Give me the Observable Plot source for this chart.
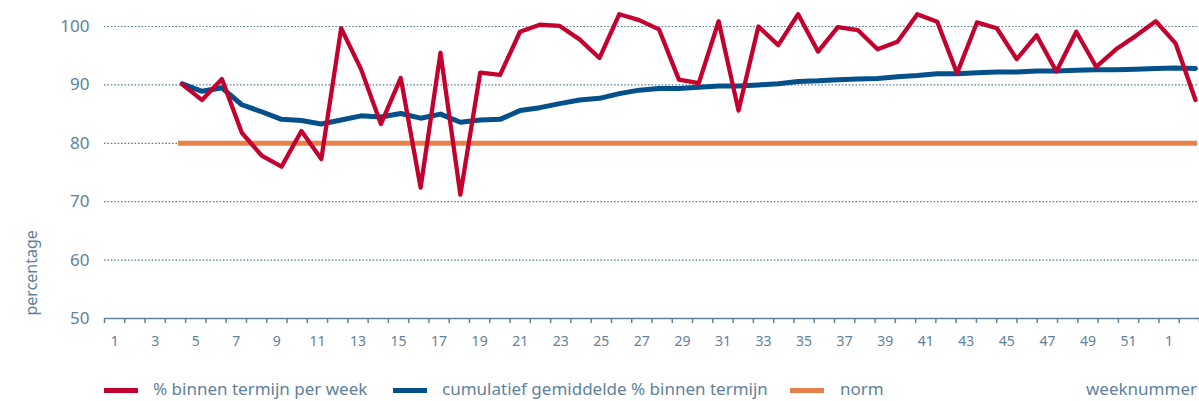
<!DOCTYPE html>
<html><head><meta charset="utf-8">
<script src="https://cdn.jsdelivr.net/npm/d3@7"></script>
<script src="https://cdn.jsdelivr.net/npm/@observablehq/plot@0.6"></script>
<style>
body{margin:0;background:#fff;font-family:"Noto Sans",sans-serif;}
#wrap{position:relative;width:1199px;height:401px;overflow:hidden;}
#wrap svg{position:absolute;left:0;top:0;}
.sw{position:absolute;height:5px;top:388px;}
.lt{position:absolute;top:379px;font-size:17px;line-height:20px;color:#5f819c;white-space:nowrap;}
</style></head><body><div id="wrap"></div>
<script>
// axis slots (weeknummer) and tick labels
const weekSlots = [1,2,3,4,5,6,7,8,9,10,11,12,13,14,15,16,17,18,19,20,21,22,23,24,25,26,27,28,29,30,31,32,33,34,35,36,37,38,39,40,41,42,43,44,45,46,47,48,49,50,51,52,1,2];
const tickLabels = ["1","3","5","7","9","11","13","15","17","19","21","23","25","27","29","31","33","35","37","39","41","43","45","47","49","51","1"];
const yTicks = [50,60,70,80,90,100];
const gridTicks = [60,70,80,90,100];

// series
const perWeek = [90.1,87.4,91.0,81.8,77.9,76.0,82.1,77.3,99.7,92.7,83.3,91.2,
  72.4,95.5,71.2,92.1,91.7,99.1,100.3,100.1,97.8,94.6,102.1,101.1,99.5,90.9,90.3,100.9,85.6,100.0,96.8,102.1,
  95.7,99.9,99.4,96.1,97.4,102.1,100.8,92.0,100.7,99.7,94.4,98.5,92.3,99.1,93.1,96.1,98.4,100.9,97.1,87.4];
const cumulative = [90.2,88.9,89.5,86.6,85.4,84.1,83.9,83.3,84.0,84.7,84.5,85.1,
  84.3,85.0,83.6,84.0,84.1,85.6,86.1,86.8,87.4,87.7,88.5,89.1,89.4,89.4,89.6,89.8,89.8,90.0,90.2,90.6,
  90.7,90.9,91.0,91.1,91.4,91.6,91.9,91.9,92.1,92.2,92.2,92.4,92.4,92.5,92.6,92.6,92.7,92.8,92.9,92.8];
const normValue = 80;

const axisColor = "#5f819c";
const redData = perWeek.map((v, i) => ({i, v}));
const blueData = cumulative.map((v, i) => ({i, v}));
const tickPos = tickLabels.map((_, k) => 2 * k + 0.5);
const boundaries = d3.range(0, weekSlots.length + 1);

const wrap = document.getElementById("wrap");

const base = Plot.plot({
  width: 1199, height: 360,
  marginLeft: 104, marginRight: 0, marginTop: 26, marginBottom: 42,
  x: {domain: [0, weekSlots.length]},
  y: {domain: [50, 100]},
  style: {fontFamily: "Noto Sans", color: axisColor, background: "transparent", fontVariantNumeric: "oldstyle-nums"},
  marks: [
    Plot.gridY(gridTicks, {stroke: "#5b7c95", strokeOpacity: 1, strokeDasharray: "1.6,1.8", strokeWidth: 1.2}),
    Plot.axisY(yTicks, {tickSize: 0, tickPadding: 15, fontSize: 17, label: null}),
    Plot.ruleY([50], {stroke: axisColor, strokeWidth: 1.5}),
    Plot.axisX(boundaries, {tickSize: 5, tickFormat: () => "", label: null, stroke: axisColor, strokeWidth: 1.5}),
    Plot.axisX(tickPos, {tickSize: 0, tickPadding: 18, fontSize: 14, label: null, tickFormat: (d, i) => tickLabels[i]}),
    Plot.text(["percentage"], {frameAnchor: "bottom-left", rotate: -90, textAnchor: "start", dx: -67.5, dy: -3, fontSize: 16, fill: axisColor})
  ]
});

const lines = Plot.plot({
  width: 1199, height: 360,
  marginLeft: 181.7, marginRight: 4, marginTop: 26, marginBottom: 42,
  x: {domain: [0, perWeek.length - 1], axis: null},
  y: {domain: [50, 100], axis: null},
  style: {background: "transparent", overflow: "visible"},
  marks: [
    Plot.ruleY([normValue], {stroke: "#e8804a", strokeWidth: 5, insetLeft: -3.7, insetRight: -2}),
    Plot.line(blueData, {x: "i", y: "v", stroke: "#03508a", strokeWidth: 5}),
    Plot.line(redData, {x: "i", y: "v", stroke: "#c4002f", strokeWidth: 4.3})
  ]
});

wrap.appendChild(base);
wrap.appendChild(lines);

const legend = [
  {label: "% binnen termijn per week", color: "#c4002f", sx: 104, tx: 153},
  {label: "cumulatief gemiddelde % binnen termijn", color: "#03508a", sx: 393, tx: 442},
  {label: "norm", color: "#e8804a", sx: 790, tx: 840}
];
for (const l of legend) {
  const s = document.createElement("div");
  s.className = "sw"; s.style.left = l.sx + "px"; s.style.width = "34px"; s.style.background = l.color;
  wrap.appendChild(s);
  const t = document.createElement("div");
  t.className = "lt"; t.style.left = l.tx + "px"; t.textContent = l.label;
  wrap.appendChild(t);
}
const wk = document.createElement("div");
wk.className = "lt"; wk.style.right = "2px"; wk.textContent = "weeknummer";
wrap.appendChild(wk);
</script></body></html>
